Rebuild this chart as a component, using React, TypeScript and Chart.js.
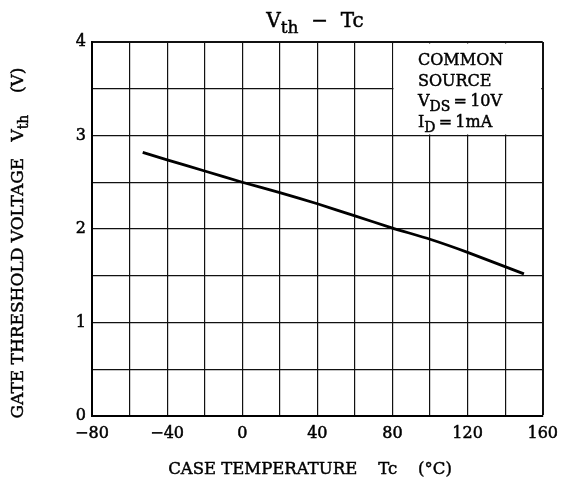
import React, { useEffect, useRef } from 'react';
import { Chart, registerables } from 'chart.js';

Chart.register(...registerables);

// ---- data ----
const temps = [-53, -40, -20, 0, 20, 40, 60, 80, 100, 120, 150];
const vth = [2.82, 2.74, 2.62, 2.5, 2.39, 2.27, 2.14, 2.01, 1.89, 1.75, 1.52];
const xTickLabels = [-80, -40, 0, 40, 80, 120, 160];
const yTickLabels = [0, 1, 2, 3, 4];
const noteBoxX = [80, 160];
const noteBoxY = [3, 4];

const FONT = '"DejaVu Serif", "Liberation Serif", serif';

type Seg = { t: string; sub?: boolean };

function drawSegs(ctx: CanvasRenderingContext2D, segs: Seg[], x: number, y: number, size: number, align: 'left' | 'center') {
  const subSize = Math.round(size * 0.85);
  let total = 0;
  const widths = segs.map((s) => {
    ctx.font = `${s.sub ? subSize : size}px ${FONT}`;
    const w = ctx.measureText(s.t).width;
    total += w;
    return w;
  });
  let cx = align === 'center' ? x - total / 2 : x;
  ctx.textAlign = 'left';
  ctx.textBaseline = 'alphabetic';
  ctx.strokeStyle = '#000';
  ctx.lineWidth = 0.45;
  segs.forEach((s, i) => {
    ctx.font = `${s.sub ? subSize : size}px ${FONT}`;
    const yy = s.sub ? y + size * 0.32 : y;
    ctx.fillText(s.t, cx, yy);
    ctx.strokeText(s.t, cx, yy);
    cx += widths[i];
  });
}

const fmt = (v: number) => (v < 0 ? '\u2212' + Math.abs(v) : String(v));

const decorPlugin = {
  id: 'decor',
  beforeDraw(chart: any) {
    const ctx = chart.ctx;
    ctx.save();
    ctx.fillStyle = '#fff';
    ctx.fillRect(0, 0, chart.width, chart.height);
    ctx.restore();
  },
  beforeDatasetsDraw(chart: any) {
    const ctx = chart.ctx;
    const xs = chart.scales.x;
    const ys = chart.scales.y;
    const l = xs.getPixelForValue(noteBoxX[0]);
    const r = xs.getPixelForValue(noteBoxX[1]);
    const t = ys.getPixelForValue(noteBoxY[1]);
    const b = ys.getPixelForValue(noteBoxY[0]);
    ctx.save();
    ctx.fillStyle = '#fff';
    ctx.fillRect(l + 1, t + 1.5, r - 1.5 - (l + 1), b - 1 - (t + 1.5));
    ctx.restore();
  },
  afterDraw(chart: any) {
    const ctx = chart.ctx;
    ctx.save();
    ctx.fillStyle = '#000';
    // title
    drawSegs(ctx, [{ t: 'V' }, { t: 'th', sub: true }, { t: '  \u2212  Tc' }], 315, 27, 20, 'center');
    // note
    const nx = 418;
    drawSegs(ctx, [{ t: 'COMMON' }], nx, 65, 16, 'left');
    drawSegs(ctx, [{ t: 'SOURCE' }], nx, 86, 16, 'left');
    drawSegs(ctx, [{ t: 'V' }, { t: 'DS', sub: true }, { t: '\u2009=\u200910V' }], nx, 106, 16, 'left');
    drawSegs(ctx, [{ t: 'I' }, { t: 'D', sub: true }, { t: '\u2009=\u20091mA' }], nx, 127, 16, 'left');
    // x title
    drawSegs(ctx, [{ t: 'CASE TEMPERATURE    Tc    (\u00b0C)' }], 310, 474, 16.5, 'center');
    // y title
    ctx.translate(23, 243);
    ctx.rotate(-Math.PI / 2);
    drawSegs(ctx, [{ t: 'GATE THRESHOLD VOLTAGE   V' }, { t: 'th', sub: true }, { t: '    (V)' }], 0, 0, 17, 'center');
    ctx.restore();
  },
};

export default function App() {
  const ref = useRef<HTMLCanvasElement | null>(null);
  useEffect(() => {
    if (!ref.current) return;
    const chart = new Chart(ref.current, {
      type: 'line',
      data: {
        datasets: [
          {
            data: temps.map((t, i) => ({ x: t, y: vth[i] })),
            borderColor: '#000',
            borderWidth: 2.8,
            pointRadius: 0,
            tension: 0.2,
            fill: false,
          },
        ],
      },
      options: {
        responsive: false,
        animation: false,
        devicePixelRatio: 1,
        layout: { padding: { top: 42, right: 21, left: 0, bottom: 0 } },
        plugins: { legend: { display: false }, tooltip: { enabled: false }, title: { display: false } },
        scales: {
          x: {
            type: 'linear',
            min: -80,
            max: 160,
            afterFit: (s: any) => {
              s.height = 68;
            },
            ticks: {
              stepSize: 20,
              autoSkip: false,
              maxRotation: 0,
              padding: 8,
              color: '#000',
              textStrokeColor: '#000',
              textStrokeWidth: 0.5,
              font: { family: FONT, size: 16 },
              callback: (v: any) => (xTickLabels.includes(Number(v)) ? fmt(Number(v)) : ''),
            },
            grid: {
              color: '#111',
              lineWidth: (c: any) => (c.tick && c.tick.value === 160 ? 2 : 1.2),
              drawTicks: false,
            },
            border: { color: '#000', width: 2 },
          },
          y: {
            type: 'linear',
            min: 0,
            max: 4,
            afterFit: (s: any) => {
              s.width = 92;
            },
            ticks: {
              stepSize: 0.5,
              autoSkip: false,
              padding: 6,
              color: '#000',
              textStrokeColor: '#000',
              textStrokeWidth: 0.5,
              font: { family: FONT, size: 16 },
              callback: (v: any) => (yTickLabels.includes(Number(v)) ? String(v) : ''),
            },
            grid: {
              color: '#111',
              lineWidth: (c: any) => (c.tick && c.tick.value === 4 ? 2 : 1.2),
              drawTicks: false,
            },
            border: { color: '#000', width: 2 },
          },
        },
      },
      plugins: [decorPlugin],
    });
    return () => chart.destroy();
  }, []);
  return (
    <div style={{ position: 'fixed', left: 0, top: 0, width: 566, height: 484, background: '#fff' }}>
      <canvas ref={ref} width={566} height={484} style={{ display: 'block' }} />
    </div>
  );
}
